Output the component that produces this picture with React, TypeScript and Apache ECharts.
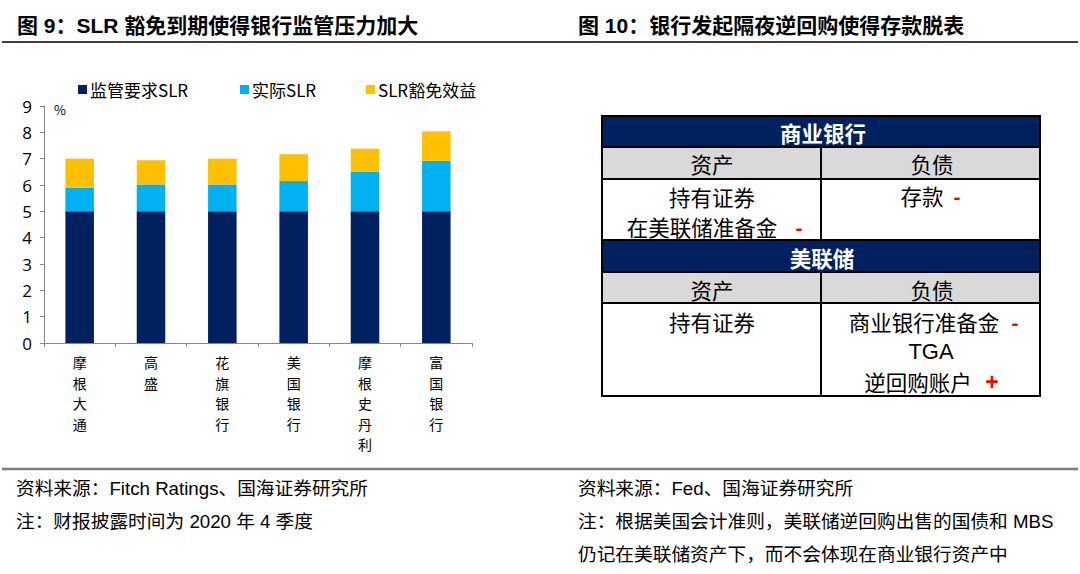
import React, { useEffect, useRef } from "react";
import * as echarts from "echarts";

const categories = ["摩根大通", "高盛", "花旗银行", "美国银行", "摩根史丹利", "富国银行"];
const seriesNames = ["监管要求SLR", "实际SLR", "SLR豁免效益"];
const requiredSLR = [5, 5, 5, 5, 5, 5];
const actualExtra = [0.9, 1.02, 1.02, 1.15, 1.5, 1.92];
const exemptionBenefit = [1.1, 0.92, 0.98, 1.02, 0.88, 1.12];
const yTicks = [0, 1, 2, 3, 4, 5, 6, 7, 8, 9];
const seriesColors = ["#002060", "#00B0F0", "#FFC000"];

const titleLeft = "图 9：SLR 豁免到期使得银行监管压力加大";
const titleRight = "图 10：银行发起隔夜逆回购使得存款脱表";
const footLeft = ["资料来源：Fitch Ratings、国海证券研究所", "注：财报披露时间为 2020 年 4 季度"];
const footRight = [
  "资料来源：Fed、国海证券研究所",
  "注：根据美国会计准则，美联储逆回购出售的国债和 MBS",
  "仍记在美联储资产下，而不会体现在商业银行资产中",
];

const CJK = "'Noto Sans CJK SC', 'Noto Sans', sans-serif";
const LAT = "'Liberation Sans', 'Noto Sans CJK SC', sans-serif";

function txt(x: number, y: number, text: string, opts: any = {}) {
  return {
    type: "text",
    x,
    y,
    silent: true,
    style: {
      text,
      fill: opts.fill || "#000",
      font: `${opts.weight || "normal"} ${opts.size || 18}px ${opts.family || LAT}`,
      textAlign: opts.align || "left",
      textVerticalAlign: "middle",
    },
  };
}

function buildTable() {
  const L = 602, R = 1040, M = 821;
  const rows = [
    { y0: 116, y1: 147, fill: "#002060" },
    { y0: 147, y1: 179, fill: "#D9D9D9" },
    { y0: 179, y1: 240, fill: "#FFFFFF" },
    { y0: 240, y1: 272, fill: "#002060" },
    { y0: 272, y1: 303, fill: "#D9D9D9" },
    { y0: 303, y1: 396, fill: "#FFFFFF" },
  ];
  const els: any[] = [];
  rows.forEach((r) => {
    els.push({
      type: "rect",
      silent: true,
      shape: { x: L, y: r.y0, width: R - L, height: r.y1 - r.y0 },
      style: { fill: r.fill, stroke: "#000", lineWidth: 2 },
    });
    if (r.fill !== "#002060") {
      els.push({
        type: "line",
        silent: true,
        shape: { x1: M, y1: r.y0, x2: M, y2: r.y1 },
        style: { stroke: "#000", lineWidth: 2 },
      });
    }
  });
  const cellSize = 21.5;
  els.push(txt(823, 132, "商业银行", { fill: "#fff", weight: "bold", size: cellSize, family: CJK, align: "center" }));
  els.push(txt(822, 257, "美联储", { fill: "#fff", weight: "bold", size: cellSize, family: CJK, align: "center" }));
  [163, 289].forEach((y) => {
    els.push(txt(712, y, "资产", { size: cellSize, family: CJK, align: "center" }));
    els.push(txt(932, y, "负债", { size: cellSize, family: CJK, align: "center" }));
  });
  els.push(txt(712, 196, "持有证券", { size: cellSize, family: CJK, align: "center" }));
  els.push(txt(702, 226, "在美联储准备金", { size: cellSize, family: CJK, align: "center" }));
  els.push(txt(799, 227, "-", { size: 21, weight: "bold", fill: "#FF0000", align: "center" }));
  els.push(txt(922, 195, "存款", { size: cellSize, family: CJK, align: "center" }));
  els.push(txt(957, 196, "-", { size: 21, weight: "bold", fill: "#FF0000", align: "center" }));
  els.push(txt(712, 321, "持有证券", { size: cellSize, family: CJK, align: "center" }));
  els.push(txt(924, 321, "商业银行准备金", { size: cellSize, family: CJK, align: "center" }));
  els.push(txt(1015, 322, "-", { size: 21, weight: "bold", fill: "#FF0000", align: "center" }));
  els.push(txt(931, 351, "TGA", { size: 22, align: "center" }));
  els.push(txt(918, 381, "逆回购账户", { size: cellSize, family: CJK, align: "center" }));
  els.push(txt(992, 382, "+", { size: 23, weight: "bold", fill: "#FF0000", align: "center" }));
  return els;
}

export default function App() {
  const ref = useRef<HTMLDivElement>(null);
  useEffect(() => {
    if (!ref.current) return;
    const chart = echarts.init(ref.current, undefined, { renderer: "svg" });
    const legendLefts = [73, 235, 361];
    const option: any = {
      animation: false,
      backgroundColor: "#fff",
      grid: { left: 44, right: 608, top: 106, bottom: 231, containLabel: false },
      legend: seriesNames.map((n, i) => ({
        data: [n],
        left: legendLefts[i],
        top: 76,
        icon: "rect",
        itemWidth: 9,
        itemHeight: 9,
        itemGap: 4,
        selectedMode: false,
        textStyle: { fontSize: 17, color: "#000", fontFamily: CJK, padding: [0, 0, 0, -2] },
      })),
      xAxis: {
        type: "category",
        data: categories,
        boundaryGap: true,
        axisLine: { lineStyle: { color: "#868686", width: 1 } },
        axisTick: { show: true, length: 4, alignWithLabel: false, lineStyle: { color: "#868686" } },
        axisLabel: {
          interval: 0,
          color: "#000",
          fontSize: 14,
          lineHeight: 20.5,
          fontFamily: CJK,
          margin: 9,
          verticalAlign: "top",
          formatter: (v: string) => v.split("").join("\n"),
        },
      },
      yAxis: {
        type: "value",
        min: yTicks[0],
        max: yTicks[yTicks.length - 1],
        interval: 1,
        axisLine: { show: true, lineStyle: { color: "#868686", width: 1 } },
        axisTick: { show: true, length: 4, lineStyle: { color: "#868686" } },
        splitLine: { show: false },
        axisLabel: { color: "#000", fontSize: 17, fontFamily: "'Open Sans', sans-serif", margin: 12 },
      },
      series: [requiredSLR, actualExtra, exemptionBenefit].map((d, i) => ({
        name: seriesNames[i],
        type: "bar",
        stack: "slr",
        data: d,
        barWidth: "40%",
        itemStyle: { color: seriesColors[i] },
      })),
      graphic: [
        txt(17, 25, titleLeft, { size: 21, weight: "bold", family: LAT }),
        txt(578, 25, titleRight, { size: 21, weight: "bold", family: LAT }),
        {
          type: "line",
          silent: true,
          shape: { x1: 2, y1: 42, x2: 1078, y2: 42 },
          style: { stroke: "#000", lineWidth: 1.5 },
        },
        {
          type: "line",
          silent: true,
          shape: { x1: 2, y1: 469, x2: 1078, y2: 469 },
          style: { stroke: "#7F7F7F", lineWidth: 2.5 },
        },
        txt(54, 109, "%", { size: 13, family: CJK }),
        txt(16, 488, footLeft[0], { size: 18.7 }),
        txt(16, 521, footLeft[1], { size: 18.7 }),
        txt(578, 488, footRight[0], { size: 18.7 }),
        txt(578, 521, footRight[1], { size: 18.7 }),
        txt(578, 554, footRight[2], { size: 18.7 }),
        ...buildTable(),
      ],
    };
    chart.setOption(option);
    return () => chart.dispose();
  }, []);
  return (
    <div
      ref={ref}
      style={{ position: "fixed", left: 0, top: 0, width: 1080, height: 574, background: "#fff" }}
    />
  );
}
